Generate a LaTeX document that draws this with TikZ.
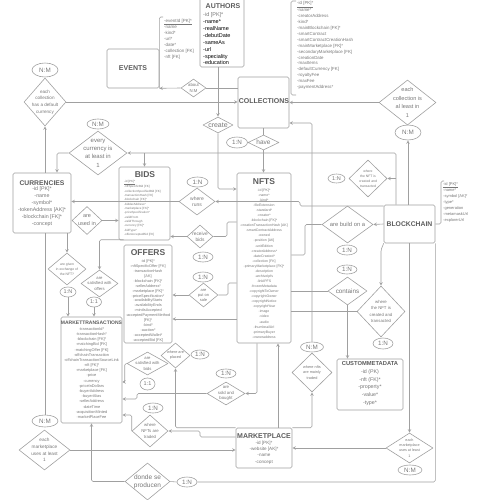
\documentclass[tikz,border=0pt]{standalone}
\usepackage{fontspec}
\setmainfont{Liberation Sans}
\usetikzlibrary{shapes.geometric}
\definecolor{linegray}{HTML}{A0A0A0}
\definecolor{ttlgray}{HTML}{5C5C5C}
\definecolor{txtgray}{HTML}{777777}
\begin{document}
\begin{tikzpicture}[x=1pt,y=-1pt,>=stealth,line join=round,
    fs/.style 2 args={font=\fontsize{#1}{#2}\selectfont},
    ent/.style={draw=linegray,line width=0.6pt,rounded corners=1.5pt,inner sep=0pt},
    rel/.style={diamond,draw=linegray,line width=0.6pt,inner sep=0pt},
    card/.style={ellipse,draw=linegray,line width=0.6pt,inner sep=0pt,text=txtgray,fs={6.3}{7}},
    conn/.style={draw=linegray,line width=0.6pt,rounded corners=1.5pt},
    ttl/.style={text=ttlgray,inner sep=0pt,font=\fontsize{#1}{#1}\selectfont\bfseries},
    attr/.style={text=txtgray,inner sep=0pt,align=center},
    lattr/.style={text=txtgray,inner sep=0pt,align=left,anchor=west},
    rtxt/.style={text=txtgray,inner sep=0pt,align=center}]
  \useasboundingbox (0,0) rectangle (500,500);

  % entities
  \node[ent,minimum width=44pt,minimum height=70pt] (authors) at (222,32) {};
  \node[ent,minimum width=52pt,minimum height=39pt] (events) at (133,68.5) {};
  \node[ent,minimum width=51pt,minimum height=51pt] (collections) at (263.5,102.5) {};
  \node[ent,minimum width=58pt,minimum height=60pt] (currencies) at (42,203) {};
  \node[ent,minimum width=51pt,minimum height=73pt] (bids) at (144.5,203.5) {};
  \node[ent,minimum width=48pt,minimum height=98pt] (offers) at (148,294) {};
  \node[ent,minimum width=54pt,minimum height=170pt] (nfts) at (264,258) {};
  \node[ent,minimum width=51pt,minimum height=38pt] (blockchain) at (409.5,224) {};
  \node[ent,minimum width=61pt,minimum height=106pt] (mtrans) at (91.5,370) {};
  \node[ent,minimum width=66pt,minimum height=51pt] (custom) at (370,384.5) {};
  \node[ent,minimum width=56pt,minimum height=40pt] (marketplace) at (264,448) {};

  % titles
  \node[ttl=7] (authors-t) at (223,6) {AUTHORS};
  \node[ttl=7] (events-t) at (133,68) {EVENTS};
  \node[ttl=7] (collections-t) at (264,101) {COLLECTIONS};
  \node[ttl=6.8] (currencies-t) at (42,183) {CURRENCIES};
  \node[ttl=8.5] (bids-t) at (145,175) {BIDS};
  \node[ttl=8.5] (offers-t) at (148,253) {OFFERS};
  \node[ttl=8.5] (nfts-t) at (264,182) {NFTS};
  \node[ttl=6.8] (blockchain-t) at (409.5,224) {BLOCKCHAIN};
  \node[ttl=5] (mtrans-t) at (91.5,323) {MARKETTRANSACTIONS};
  \node[ttl=7] (marketplace-t) at (264,436) {MARKETPLACE};
  \node[ttl=5.8] (custom-t) at (370,363) {CUSTOMMETADATA};

  % attributes
  \node[lattr,text=black,fs={5.5}{6.86}] (authors-a) at (203,39)
    {\textcolor{txtgray}{-id [PK]*}\\-name*\\-realName\\-debutDate\\-sameAs\\-url\\-speciality\\-education};
  \node[lattr,fs={4.5}{6}] (events-a) at (164,39)
    {\underline{-eventId [PK]*}\\-name\\-kind*\\-url*\\-date*\\-collection [FK]\\-nft [FK]};
  \node[lattr,fs={4.4}{5.93}] (collections-a) at (297,45.5)
    {\underline{-id [PK]*}\\-name*\\-creatorAddress\\-kind*\\-mainBlockchain [FK]*\\-smartContract\\-smartContractCreationHash\\-mainMarketplace [FK]*\\-secondaryMarketplace [FK]\\-creationDate\\-maxItems\\-defaultCurrency [FK]\\-royaltyFee\\-maxFee\\-paymentAddress*};
  \node[attr,fs={5.3}{7}] (currencies-a) at (42,206.5)
    {-id [PK]*\\-name\\-symbol*\\-tokenAddress [AK]*\\-blockchain [FK]*\\-concept};
  \node[lattr,fs={3}{4.33}] (bids-a) at (124,208)
    {\underline{-id [PK]*}\\-nftSpecificBid [FK]\\-collectionSpecifiedBid [FK]\\-transactionHash [FK]\\-blockchain [FK]*\\-bidderAddress*\\-marketplace [FK]*\\-priceSpecification*\\-validFrom\\-validThrough\\-currency [FK]*\\-bidType*\\-offerAcceptedBid [FK]};
  \node[attr,fs={3.8}{4.9}] (offers-a) at (148,301)
    {-id [PK]*\\-nftSpecificOffer [FK]\\-transactionHash\\{[AK]}\\-blockchain [FK]*\\-sellerAddress*\\-marketplace [FK]*\\-priceSpecification*\\-availabilityStarts\\-availabilityEnds\\-mintIsAccepted\\-acceptedPaymentMethod\\{[FK]*}\\-kind*\\-auction*\\-acceptedWallet*\\-acceptedBid [FK]};
  \node[attr,fs={3.5}{5.07}] (nfts-a) at (264,263.5)
    {-id [PK]*\\-name*\\-kind*\\-fileExtension\\-standard*\\-creator*\\-blockchain [FK]*\\-creationTransactionHash [AK]\\-smartContractAddress\\-owned\\-position [AK]\\-unitEdition\\-creatorAddress*\\-dateCreated*\\-collection [FK]\\-primaryMarketplace [FK]*\\-description\\-archiveIpfs\\-linkIPFS\\-frozenMetadata\\-copyrightToOwner\\-copyrightOwner\\-copyrightNotice\\-copyrightYear\\-image\\-video\\-audio\\-thumbnailUrl\\-primaryBuyer\\-owneraddress};
  \node[attr,fs={3.9}{5.18}] (mtrans-a) at (91.5,373)
    {-transactionId*\\-transactionHash*\\-blockchain [FK]*\\-matchingBid [FK]\\-matchingOffer [FK]\\-offchainTransaction\\-offchainTransactionSourceLink\\-nft [FK]*\\-marketplace [FK]\\-price\\-currency\\-priceInDollars\\-buyerAddress\\-buyerAlias\\-sellerAddress\\-dateTime\\-acquisitionMinted\\-marketPlaceFee};
  \node[lattr,fs={4}{6}] (blockchain-a) at (443,202)
    {\underline{-id [PK]*}\\-name*\\-symbol [AK]*\\-type*\\-generation\\-metamaskUrl\\-explorerUrl};
  \node[attr,fs={4.6}{6.3}] (marketplace-a) at (264,452.5) {-id [PK]*\\-website [AK]*\\-name\\-concept};
  \node[attr,fs={5.3}{7.7}] (custom-a) at (370,387.5) {-id (PK)\\-nft (FK)*\\-property*\\-value*\\-type*};

  % relations
  \node[rel,minimum width=25pt,minimum height=18pt] (dabout) at (193.5,88) {};
  \node[rtxt,fs={4.3}{5.5}] (dabout-t) at (dabout) {about\\N:M};
  \node[rel,minimum width=30pt,minimum height=16pt] (dcreate) at (218,125) {};
  \node[rtxt,fs={7}{8}] (dcreate-t) at (dcreate) {create};
  \node[rel,minimum width=31pt,minimum height=15pt] (dhave) at (263.5,142.5) {};
  \node[rtxt,fs={6.5}{7}] (dhave-t) at (dhave) {have};
  \node[rel,minimum width=42pt,minimum height=48pt] (ddefcur) at (45,102) {};
  \node[rtxt,fs={4.6}{6.6}] (ddefcur-t) at (ddefcur) {each\\collection\\has a default\\currency};
  \node[rel,minimum width=58pt,minimum height=44pt] (devery) at (98,153) {};
  \node[rtxt,fs={6}{8.3}] (devery-t) at (devery) {every\\currency is\\at least in\\1};
  \node[rel,minimum width=57pt,minimum height=45pt] (deachcol) at (407.5,102.5) {};
  \node[rtxt,fs={5.6}{8.7}] (deachcol-t) at (deachcol) {each\\collection is\\al least in\\1};
  \node[rel,minimum width=36pt,minimum height=27pt] (dwhereruns) at (197,201.5) {};
  \node[rtxt,fs={5}{6.5}] (dwhereruns-t) at (dwhereruns) {where\\runs};
  \node[rel,minimum width=30pt,minimum height=28pt] (dusedin) at (87,220.5) {};
  \node[rtxt,fs={5.5}{8}] (dusedin-t) at (dusedin) {are\\used in};
  \node[rel,minimum width=38pt,minimum height=32pt] (dgiven) at (67,269) {};
  \node[rtxt,fs={3.4}{5}] (dgiven-t) at (dgiven) {are given\\in exchange of\\the NFT?};
  \node[rel,minimum width=37pt,minimum height=27pt] (dsatoff) at (99.5,283.5) {};
  \node[rtxt,fs={4.2}{5.5}] (dsatoff-t) at (dsatoff) {are\\satisfied with\\offers};
  \node[rel,minimum width=26pt,minimum height=23pt] (dreceive) at (200,236.5) {};
  \node[rtxt,fs={4.8}{6}] (dreceive-t) at (dreceive) {receive\\bids};
  \node[rel,minimum width=29pt,minimum height=24pt] (dputsale) at (203.5,295) {};
  \node[rtxt,fs={4}{5}] (dputsale-t) at (dputsale) {are\\put on\\sale};
  \node[rel,minimum width=29pt,minimum height=25pt] (dplaced) at (175.5,355.5) {};
  \node[rtxt,fs={3.8}{5}] (dplaced-t) at (dplaced) {where are\\placed};
  \node[rel,minimum width=41pt,minimum height=23pt] (dsatbids) at (147.5,363.5) {};
  \node[rtxt,fs={4.2}{5.5}] (dsatbids-t) at (dsatbids) {are\\satisfied with\\bids};
  \node[rel,minimum width=38pt,minimum height=23pt] (dsold) at (226,393.5) {};
  \node[rtxt,fs={4.3}{5.5}] (dsold-t) at (dsold) {are\\sold and\\bought};
  \node[rel,minimum width=36pt,minimum height=32pt] (dtraded) at (150,431) {};
  \node[rtxt,fs={4.3}{6}] (dtraded-t) at (dtraded) {where\\NFTs are\\traded};
  \node[rel,minimum width=51pt,minimum height=40pt] (deachmpl) at (44.5,450) {};
  \node[rtxt,fs={4.7}{6.7}] (deachmpl-t) at (deachmpl) {each\\marketplace\\uses at least\\1};
  \node[rel,minimum width=40pt,minimum height=39pt] (dmainly) at (312,372.5) {};
  \node[rtxt,fs={3.8}{5.5}] (dmainly-t) at (dmainly) {where nfts\\are mainly\\traded};
  \node[rel,minimum width=45pt,minimum height=37pt] (ddonde) at (147.5,481.5) {};
  \node[rtxt,fs={6.5}{8}] (ddonde-t) at (ddonde) {donde se\\producen};
  \node[rel,minimum width=51pt,minimum height=37pt] (dbuild) at (347.5,224.5) {};
  \node[rtxt,fs={5.8}{7}] (dbuild-t) at (dbuild) {are build on a};
  \node[rel,minimum width=39pt,minimum height=28pt] (dcontains) at (347.5,291) {};
  \node[rtxt,fs={6.3}{7}] (dcontains-t) at (dcontains) {contains};
  \node[rel,minimum width=38pt,minimum height=37pt] (dcreated1) at (368,178.5) {};
  \node[rtxt,fs={3.4}{5}] (dcreated1-t) at (dcreated1) {where\\the NFT is\\created and\\transacted};
  \node[rel,minimum width=48pt,minimum height=51pt] (dcreated2) at (381,311.5) {};
  \node[rtxt,fs={4.3}{6.5}] (dcreated2-t) at (dcreated2) {where\\the NFT is\\created and\\transacted};
  \node[rel,minimum width=47pt,minimum height=30pt] (deachmpr) at (409.5,448) {};
  \node[rtxt,fs={3.7}{5.2}] (deachmpr-t) at (deachmpr) {each\\marketplace\\uses at least\\1};

  % cardinalities
  \node[card,minimum width=26pt,minimum height=14pt] (e1) at (45,70) {N:M};
  \node[card,minimum width=22pt,minimum height=10pt] (e2) at (98,124) {N:M};
  \node[card,minimum width=26pt,minimum height=15pt] (e3) at (408,132.5) {N:M};
  \node[card,minimum width=21pt,minimum height=11pt] (e4) at (237,142.5) {1:N};
  \node[card,minimum width=21pt,minimum height=10pt] (e5) at (197.5,182) {1:N};
  \node[card,minimum width=20pt,minimum height=10pt] (e6) at (203,257) {1:N};
  \node[card,minimum width=20pt,minimum height=10pt] (e7) at (203,277) {1:N};
  \node[card,fs={5.5}{6},minimum width=16pt,minimum height=10pt] (e8) at (68,292) {1:N};
  \node[card,fs={5.5}{6},minimum width=15pt,minimum height=10pt] (e9) at (94,302) {1:1};
  \node[card,fs={5.5}{6},minimum width=17pt,minimum height=9pt] (e10) at (336.5,178.5) {1:N};
  \node[card,minimum width=20pt,minimum height=10pt] (e11) at (347,250) {1:N};
  \node[card,minimum width=20pt,minimum height=9pt] (e12) at (347,269.5) {1:N};
  \node[card,minimum width=20pt,minimum height=11pt] (e13) at (383,343.5) {1:N};
  \node[card,minimum width=18pt,minimum height=9pt] (e14) at (200,354.5) {1:N};
  \node[card,fs={5.5}{6},minimum width=15pt,minimum height=12pt] (e15) at (147.5,384) {1:1};
  \node[card,minimum width=20pt,minimum height=9pt] (e16) at (226,373.5) {1:N};
  \node[card,minimum width=20pt,minimum height=10pt] (e17) at (153,408) {1:N};
  \node[card,minimum width=26pt,minimum height=12pt] (e18) at (45,421) {N:M};
  \node[card,minimum width=23pt,minimum height=10pt] (e19) at (312,347) {N:M};
  \node[card,minimum width=20pt,minimum height=10pt] (e20) at (187,482) {1:N};
  \node[card,minimum width=24pt,minimum height=10pt] (e21) at (410,470) {N:M};

  \coordinate (bcup) at ([xshift=-13.5pt]blockchain.north);

  % attribute brackets
  \draw[conn] (163,17) -| (events.south east);
  \draw[conn] (296,1) -- (291,1) -- (291,95) -- (296,95);
  \draw[conn] (blockchain.east) -- (441,224) |- (444,181);

  % connectors
  \draw[conn,->] (dcreate.north |- authors.south) -- (dcreate.north);
  \draw[conn,->] (dcreate.south) |- (nfts.west |- 0,189);
  \draw[conn,->] (dabout.west) -- (events.south east);
  \draw[conn] (dabout.east) -- (dabout.east -| collections.west);
  \draw[conn,->] (ddefcur.east) -- (ddefcur.east -| collections.west);
  \draw[conn,->] (ddefcur.south |- currencies.north) -- (ddefcur.south);
  \draw[conn,->] (devery.west) -| ([xshift=15pt]currencies.north);
  \draw[conn,->] (bcup) |- (devery.east);
  \draw[conn,->] (bids.north |- devery.east) -- (bids.north);
  \draw[conn,->] (dcreated1.east -| bcup) -- (dcreated1.east);
  \draw[conn,->] (e3.south |- blockchain.north) -- (e3.south);
  \draw[conn,->] (deachcol.west) -- (deachcol.west -| collections.east);
  \draw[conn] (collections.south) -- (dhave.north);
  \draw[conn,->] (dhave.south) -- (dhave.south |- nfts.north);
  \draw[conn,<-] ([yshift=-20.5pt]collections.east) -| (e19.north);
  \draw[conn,->] (marketplace.north east) -| (dmainly.south);
  \draw[conn,->] ([xshift=14pt]marketplace.north) -- ([xshift=14pt]nfts.south);
  \draw[conn,->] ([xshift=-7pt]nfts.south) |- (dsold.east);
  \draw[conn,->] (dsold.west) -| (137,399) -- (mtrans.east |- 137,399);
  \draw[conn,->] (dsatbids.west) -- ++(-2,0) |- (mtrans.east |- 0,382);
  \draw[conn,->] (dtraded.west) |- (mtrans.east |- 0,415);
  \draw[conn,->] ([yshift=11pt]marketplace.west) -- (200,437) |- (dtraded.east);
  \draw[conn,->] (marketplace.north west) -| (dplaced.south);
  \draw[conn,->] (deachmpl.east) -- (deachmpl.east -| marketplace.west);
  \draw[conn] (e18.north |- currencies.south) -- (e18.north);
  \draw[conn,->] (deachmpr.west) -- (marketplace.east);
  \draw[conn,->] (deachmpr.north |- blockchain.south) -- (deachmpr.north);
  \draw[conn] (blockchain.south east) |- (e20.east);
  \draw[conn] (e20.west) -- (ddonde.east);
  \draw[conn,->] (ddonde.west) -| (mtrans.south);
  \draw[conn,->] (blockchain.south west) -- (dcreated2.north |- 0,250) -- (dcreated2.north);
  \draw[conn,->] (blockchain.west) -- (dbuild.east);
  \draw[conn] (dbuild.west) -| (305,255) -- (nfts.east |- 305,255);
  \draw[conn,->] ([yshift=18pt]blockchain.west) -- (300,206) |- (dwhereruns.east);
  \draw[conn,->] (dwhereruns.west) -- (dwhereruns.west -| currencies.east);
  \draw[conn,->] (dusedin.east) -- (dusedin.east -| bids.west);
  \draw[conn,->] (dgiven.north |- currencies.south) -- (dgiven.north);
  \draw[conn,->] (e8.south) -- (e8.south |- mtrans.north);
  \draw[conn,->] ([yshift=5pt]offers.north west) -| (dsatoff.north);
  \draw[conn,->] (e9.south) -- (e9.south |- mtrans.north);
  \draw[conn] ([yshift=36pt]nfts.west) -- (227,222) |- (dreceive.east);
  \draw[conn,->] (dreceive.west) -- (dreceive.west -| bids.east);
  \draw[conn] ([yshift=-25pt]nfts.west) -- (228,283) |- (dputsale.east);
  \draw[conn,->] (dputsale.west) -- (dputsale.west -| offers.east);
  \draw[conn,->] ([yshift=-61pt]nfts.west) -- ([yshift=-61pt]nfts.west -| offers.east);
  \draw[conn] (dcontains.west -| nfts.east) -- (dcontains.west);
  \draw[conn,->] (dcontains.south) -- (dcontains.south |- custom.north);
  \draw[conn] (dcreated2.west -| nfts.east) -- (dcreated2.west);
\end{tikzpicture}
\end{document}
